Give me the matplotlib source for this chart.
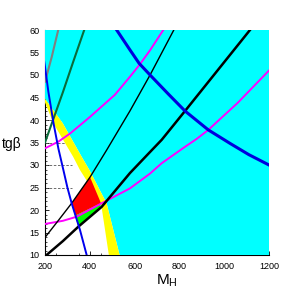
import matplotlib
matplotlib.use("Agg")
import matplotlib.pyplot as plt

plt.rcParams['font.family'] = ['Liberation Sans', 'DejaVu Sans']
plt.rcParams['mathtext.default'] = 'regular'

# ---- data (M_H, tg beta) ----
# yellow band edges
band_lo_M = [200, 237, 326, 356, 450, 485]
band_lo_t = [43.9, 39.3, 31.8, 28.9, 21.5, 10]
band_hi_M = [200, 279, 364, 398, 475, 533]
band_hi_t = [44.7, 39.3, 31.8, 28.9, 21.5, 10]

# red and green allowed regions
red_M = [319, 401, 450, 334]
red_t = [21.5, 27.3, 21.5, 18.7]
green_M = [334, 450, 447, 348]
green_t = [18.7, 21.5, 20.6, 16.4]

# curves
gray_M = [200, 230, 259]
gray_t = [48.5, 54.0, 60.0]
dkgreen_M = [200, 240, 280, 325, 375]
dkgreen_t = [35.0, 40.6, 46.2, 52.8, 60.0]
blue_thin_M = [195, 200, 215, 238, 260, 282, 300, 319, 356, 386]
blue_thin_t = [53.5, 51.8, 46.3, 39.3, 33.6, 28.9, 25.0, 21.5, 15.6, 10.0]
mag_up_M = [200, 260, 312, 401, 512, 579, 624, 669, 728]
mag_up_t = [33.7, 35.2, 37.0, 40.7, 45.6, 49.6, 52.4, 55.5, 60.0]
mag_lo_M = [200, 280, 341, 453, 579, 669, 721, 818, 877, 929, 1060, 1200]
mag_lo_t = [16.9, 17.6, 18.5, 21.5, 24.8, 28.1, 30.4, 33.8, 35.8, 37.8, 43.8, 51.0]
black_thin_M = [200, 260, 319, 401, 475, 579, 669, 775]
black_thin_t = [13.9, 17.7, 21.5, 27.3, 33.3, 42.0, 50.0, 60.0]
black_thick_M = [207, 280, 349, 453, 579, 669, 721, 825, 970, 1115]
black_thick_t = [10.0, 13.1, 16.3, 20.7, 28.2, 32.9, 35.6, 42.0, 51.0, 60.0]
blue_thick_M = [520, 579, 620, 669, 750, 825, 929, 1026, 1110, 1200]
blue_thick_t = [60.0, 55.6, 52.6, 50.0, 45.8, 42.0, 37.8, 34.8, 32.3, 30.0]

grid_t = [25, 30, 35, 40]

x_ticks = [200, 400, 600, 800, 1000, 1200]
y_ticks = [10, 15, 20, 25, 30, 35, 40, 45, 50, 55, 60]

fig = plt.figure(figsize=(3, 3), dpi=100)
ax = fig.add_axes([0.15, 0.15, 0.7467, 0.75])
ax.set_xlim(200, 1200)
ax.set_ylim(10, 60)
ax.set_axisbelow(True)

# grid fragments (visible only in white area)
for t in grid_t:
    ax.plot([200, 320], [t, t], color='#555555', lw=0.6, ls=(0, (3, 2)), zorder=0.6)

# cyan region right of the band
cy_M = band_hi_M + [1200, 1200, 200]
cy_t = band_hi_t + [10, 60, 60]
ax.fill(cy_M, cy_t, color='#00ffff', lw=0, zorder=1)
# yellow band
ye_M = band_hi_M + band_lo_M[::-1]
ye_t = band_hi_t + band_lo_t[::-1]
ax.fill(ye_M, ye_t, color='#ffff00', lw=0, zorder=1)

ax.fill(red_M, red_t, color='#ff0000', lw=0, zorder=1.5)
ax.fill(green_M, green_t, color='#00ff00', lw=0, zorder=1.5)

ax.plot(gray_M, gray_t, color='#808080', lw=1.5, zorder=3)
ax.plot(dkgreen_M, dkgreen_t, color='#0b6b3a', lw=1.5, zorder=3)
ax.plot(mag_up_M, mag_up_t, color='#ff00ff', lw=1.4, zorder=3)
ax.plot(mag_lo_M, mag_lo_t, color='#ff00ff', lw=1.4, zorder=3)
ax.plot(black_thin_M, black_thin_t, color='black', lw=1.0, zorder=3)
ax.plot(black_thick_M, black_thick_t, color='black', lw=1.8, zorder=3)
ax.plot(blue_thin_M, blue_thin_t, color='#0000ee', lw=1.4, zorder=3)
ax.plot(blue_thick_M, blue_thick_t, color='#0000dd', lw=2.2, zorder=3)

for s in ['top', 'right']:
    ax.spines[s].set_visible(False)
for s in ['left', 'bottom']:
    ax.spines[s].set_zorder(0.7)
    ax.spines[s].set_linewidth(0.8)

ax.set_xticks(x_ticks)
ax.set_yticks(y_ticks)
ax.set_yticks([v for v in range(10, 61) if v % 5], minor=True)
ax.set_xticks([v for v in range(250, 1200, 100)], minor=True)
ax.tick_params(which='both', direction='in', labelsize=6.5)
ax.tick_params(which='major', length=3, width=0.6)
ax.tick_params(which='minor', length=1.5, width=0.5)
ax.tick_params(axis='y', pad=4)
ax.tick_params(axis='x', pad=5)

fig.text(0.007, 0.52, 'tg\u03b2', fontsize=10, ha='left', va='center')
fig.text(0.52, 0.065, 'M$_H$', fontsize=11, ha='left', va='center')

fig.savefig('out.png', dpi=100)
